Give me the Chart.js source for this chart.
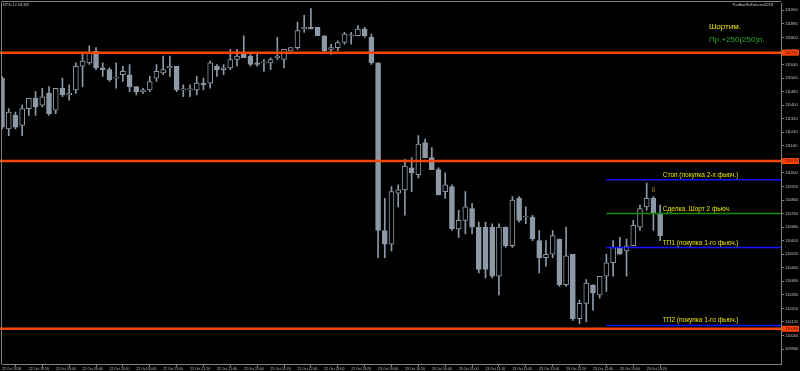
<!DOCTYPE html>
<html>
<head>
<meta charset="utf-8">
<script src="https://cdn.jsdelivr.net/npm/chart.js@4.4.0/dist/chart.umd.min.js"></script>
<style>
  html, body { margin: 0; padding: 0; background: #000; }
  #wrap { width: 800px; height: 371px; }
</style>
</head>
<body>
<div id="wrap"><canvas id="chart" width="800" height="371"></canvas></div>
<script>
// RTS-12.18, M5 candles (22 Oct 19:00 .. 23 Oct 13:10)
const opens = [
  111560, 111260, 111340, 111280, 111380, 111440, 111400, 111470, 111370, 111500,
  111460, 111490, 111630, 111650, 111720, 111620, 111610, 111560, 111580, 111580,
  111510, 111480, 111490, 111560, 111590, 111620, 111630, 111490, 111490, 111490,
  111530, 111530, 111630, 111610, 111620, 111670, 111700, 111690, 111650, 111650,
  111650, 111680, 111670, 111720, 111740, 111850, 111860, 111860, 111810, 111730,
  111740, 111770, 111810, 111810, 111850, 111800, 111650, 110660, 110580, 110880,
  110900, 111030, 110990, 111180, 111090, 111020, 110890, 110920, 110670, 110720,
  110790, 110680, 110680, 110680, 110390, 110680, 110570, 110850, 110740, 110740,
  110600, 110500, 110520, 110610, 110340, 110520, 110140, 110230, 110340, 110280,
  110390, 110470, 110560, 110540, 110570, 110680, 110800, 110850, 110760
];
const highs = [
  111570, 111380, 111360, 111400, 111440, 111480, 111500, 111510, 111500, 111560,
  111520, 111650, 111710, 111750, 111740, 111650, 111620, 111650, 111630, 111640,
  111510, 111500, 111570, 111640, 111690, 111690, 111630, 111520, 111520, 111570,
  111560, 111660, 111640, 111640, 111730, 111730, 111810, 111700, 111700, 111670,
  111680, 111800, 111730, 111740, 111890, 111930, 111970, 111860, 111810, 111760,
  111780, 111830, 111830, 111870, 111860, 111820, 111650, 110850, 110920, 110930,
  111080, 111090, 111220, 111200, 111150, 111030, 111000, 110930, 110780, 110890,
  110820, 110710, 110710, 110700, 110700, 110680, 110860, 110860, 110800, 110750,
  110660, 110600, 110660, 110610, 110680, 110520, 110250, 110370, 110340, 110390,
  110520, 110600, 110620, 110610, 110720, 110810, 110940, 110860, 110810
];
const lows = [
  111260, 111220, 111260, 111220, 111340, 111340, 111390, 111340, 111350, 111450,
  111430, 111470, 111510, 111640, 111610, 111570, 111540, 111500, 111540, 111480,
  111460, 111470, 111480, 111540, 111580, 111570, 111480, 111450, 111450, 111460,
  111490, 111500, 111570, 111580, 111610, 111630, 111680, 111630, 111630, 111600,
  111610, 111670, 111620, 111720, 111730, 111830, 111850, 111810, 111710, 111700,
  111720, 111760, 111760, 111810, 111800, 111640, 110500, 110500, 110540, 110800,
  110750, 110890, 110970, 111090, 111020, 110870, 110850, 110660, 110620, 110640,
  110640, 110410, 110380, 110380, 110280, 110560, 110560, 110710, 110700, 110600,
  110410, 110450, 110500, 110330, 110330, 110130, 110110, 110120, 110190, 110260,
  110300, 110390, 110520, 110390, 110570, 110660, 110780, 110660, 110600
];
const closes = [
  111270, 111360, 111270, 111380, 111440, 111390, 111450, 111350, 111500, 111460,
  111470, 111630, 111660, 111710, 111620, 111610, 111550, 111560, 111600, 111510,
  111480, 111490, 111540, 111600, 111610, 111630, 111490, 111490, 111490, 111530,
  111520, 111650, 111610, 111620, 111670, 111690, 111680, 111640, 111640, 111650,
  111670, 111690, 111730, 111740, 111840, 111860, 111850, 111810, 111720, 111740,
  111770, 111820, 111810, 111850, 111810, 111650, 110660, 110580, 110890, 110900,
  111040, 111000, 111170, 111090, 111020, 110870, 110930, 110670, 110720, 110800,
  110680, 110430, 110430, 110390, 110680, 110570, 110840, 110720, 110740, 110610,
  110500, 110520, 110630, 110340, 110510, 110140, 110230, 110350, 110290, 110390,
  110470, 110560, 110520, 110570, 110690, 110790, 110850, 110760, 110630
];

// bottom axis: one label every 4 bars
const timeLabels = [
  '22 Oct 2018', '22 Oct 19:20', '22 Oct 19:40', '22 Oct 20:00', '22 Oct 20:20',
  '22 Oct 20:40', '22 Oct 21:00', '22 Oct 21:20', '22 Oct 21:40', '22 Oct 22:00',
  '22 Oct 22:20', '22 Oct 22:40', '22 Oct 23:00', '22 Oct 23:20', '23 Oct 10:00',
  '23 Oct 10:20', '23 Oct 10:40', '23 Oct 11:00', '23 Oct 11:20', '23 Oct 11:40',
  '23 Oct 12:00', '23 Oct 12:20', '23 Oct 12:40', '23 Oct 13:00', '23 Oct 13:20'
];
const priceTicks = [
  109960, 110040, 110120, 110200, 110280, 110360, 110440, 110520, 110600, 110680,
  110760, 110840, 110920, 111000, 111080, 111160, 111240, 111320, 111400, 111480,
  111560, 111640, 111720, 111800, 111880, 111960
];

// horizontal levels
const redLevels = [111710, 111070, 110080];
const tradeLevels = [110960, 110760, 110560, 110100];
const tradeNotes = ['Стоп (покупка 2-х фьюч.)', 'Сделка. Шорт 2 фьюч.', 'ТП1 (покупка 1-го фьюч.)', 'ТП2 (покупка 1-го фьюч.)'];
const tradeColors = ['#1414ff', '#0b8f0b', '#1414ff', '#1414ff'];
const tradeFrom = 90;
const sellMark = { bar: 97, price: 110900 };

const GRAY = '#8d99a6';
const bars = opens.map((_, i) => i);

const wicks = bars.map(i => ({ x: i, y: [lows[i], highs[i]] }));
const bodies = bars.map(i => ({ x: i, y: [opens[i], closes[i]] }));
const bodyFill = bars.map(i => closes[i] >= opens[i] ? '#000' : GRAY);

const level = (price, from, to, color, width) => ({
  type: 'line',
  data: [{ x: from, y: price }, { x: to, y: price }],
  borderColor: color,
  borderWidth: width,
  pointRadius: 0,
  order: 0,
  clip: { left: 3, right: 0, top: 0, bottom: 0 }
});

const overlay = {
  id: 'overlay',
  afterDraw(chart) {
    const { ctx, chartArea: a, scales: { x, y } } = chart;
    ctx.save();

    // window frame
    ctx.strokeStyle = '#808080';
    ctx.lineWidth = 1;
    ctx.beginPath();
    ctx.moveTo(1.5, a.bottom);
    ctx.lineTo(1.5, 1.5);
    ctx.lineTo(a.right, 1.5);
    ctx.stroke();

    // price boxes for the red levels
    ctx.font = '4px "Liberation Sans"';
    ctx.textBaseline = 'middle';
    ctx.textAlign = 'left';
    redLevels.forEach(p => {
      const py = y.getPixelForValue(p);
      ctx.fillStyle = '#ff4500';
      ctx.fillRect(a.right + 1, py - 3, 17, 6);
      ctx.fillStyle = '#3a0a00';
      ctx.fillText(String(p), a.right + 4, py);
    });

    // notes above trade levels
    ctx.font = '6.5px "Liberation Sans"';
    ctx.textBaseline = 'bottom';
    ctx.fillStyle = '#e6e600';
    tradeLevels.forEach((p, k) => {
      ctx.fillText(tradeNotes[k], x.getPixelForValue(98.4), y.getPixelForValue(p) - 1.5);
    });

    // sell arrow
    ctx.font = '7px "DejaVu Sans"';
    ctx.textAlign = 'center';
    ctx.textBaseline = 'middle';
    ctx.fillStyle = '#e0c000';
    ctx.fillText('⇩', x.getPixelForValue(sellMark.bar), y.getPixelForValue(sellMark.price));

    // headers
    ctx.textAlign = 'left';
    ctx.font = '4px "Liberation Sans"';
    ctx.fillStyle = '#c8c8c8';
    ctx.fillText('RTS-12.18,M5', 3, 5);
    ctx.textAlign = 'right';
    ctx.fillText('PodbarRuFutures2018', 773, 5);

    ctx.textAlign = 'left';
    ctx.font = '8px "Liberation Sans"';
    ctx.fillStyle = '#e6e600';
    ctx.fillText('Шортим.', 709, 27);
    ctx.fillStyle = '#2ea82e';
    ctx.fillText('Пр.+250(250)п.', 709, 40);

    ctx.restore();
  }
};

new Chart(document.getElementById('chart'), {
  type: 'bar',
  data: {
    datasets: [
      ...redLevels.map(p => level(p, -1, 116, '#ff4500', 2.5)),
      ...tradeLevels.map((p, k) => level(p, tradeFrom, 116, tradeColors[k], 1.5)),
      {
        data: bodies,
        backgroundColor: bodyFill,
        borderColor: GRAY,
        borderWidth: 1,
        borderSkipped: false,
        barThickness: 5,
        minBarLength: 1,
        grouped: false,
        order: 1
      },
      {
        data: wicks,
        backgroundColor: GRAY,
        borderWidth: 0,
        barThickness: 1,
        grouped: false,
        order: 2
      }
    ]
  },
  options: {
    responsive: false,
    animation: false,
    layout: { padding: { top: 1, left: 2, right: 0, bottom: 0 } },
    plugins: { legend: { display: false }, tooltip: { enabled: false } },
    scales: {
      x: {
        type: 'linear',
        offset: false,
        min: 0,
        max: 116,
        afterBuildTicks: s => { s.ticks = timeLabels.map((_, k) => ({ value: k * 4 })); },
        afterFit: s => { s.height = 7; },
        border: { color: '#808080' },
        grid: { drawOnChartArea: false, tickLength: 3, color: '#808080' },
        ticks: {
          autoSkip: false,
          maxRotation: 0,
          align: 'start',
          padding: 0,
          color: '#c0c0c0',
          font: { family: 'Liberation Sans', size: 3.5 },
          callback: v => timeLabels[v / 4] ?? ''
        }
      },
      y: {
        position: 'right',
        min: 109872,
        max: 112001,
        afterBuildTicks: s => { s.ticks = priceTicks.map(v => ({ value: v })); },
        afterFit: s => { s.width = 19; },
        border: { color: '#808080' },
        grid: { drawOnChartArea: false, tickLength: 3, color: '#808080' },
        ticks: {
          padding: 1,
          color: '#c0c0c0',
          font: { family: 'Liberation Sans', size: 4 },
          callback: v => String(v)
        }
      }
    }
  },
  plugins: [overlay]
});
</script>
</body>
</html>
